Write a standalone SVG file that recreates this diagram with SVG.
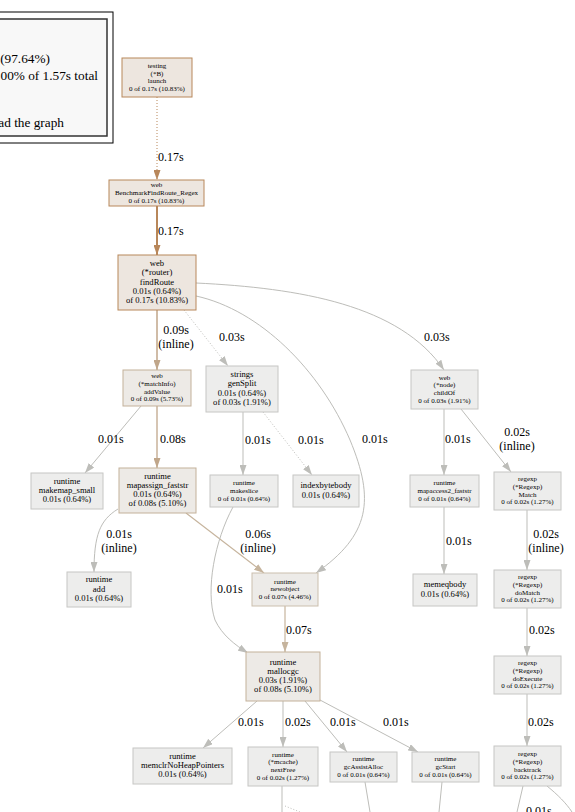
<svg xmlns="http://www.w3.org/2000/svg" width="575" height="812" viewBox="0 0 575 812">
<style>
text{font-family:"Liberation Serif","Times New Roman",serif;fill:#000}
.s{font-size:7px;text-anchor:middle}
.b{font-size:8.6px;text-anchor:middle}
.l{font-size:12px}
.lm{font-size:12px;text-anchor:middle}
.g{font-size:13.3px;text-anchor:end}
.hot rect{fill:#ede6df;stroke:#b8875a;stroke-width:1}
.warm rect{fill:#edeae6;stroke:#c3b19a;stroke-width:1}
.wl rect{fill:#edebe8;stroke:#cbbfae;stroke-width:1}
.cool rect{fill:#ededec;stroke:#c6c6c4;stroke-width:1}
.e{fill:none;stroke:#bdbdb9;stroke-width:1}
.eb{fill:none;stroke:#b8875a;stroke-width:2}
.et{fill:none;stroke:#c0a68a;stroke-width:1.5}
.el{fill:none;stroke:#c6b49d;stroke-width:1.2}
.dot{stroke-dasharray:1,2}
</style>
<defs>
<marker id="ag" viewBox="0 0 10 7" refX="10" refY="3.5" markerWidth="10" markerHeight="7" markerUnits="userSpaceOnUse" orient="auto"><path d="M0,0L10,3.5L0,7z" fill="#bdbdb9"/></marker>
<marker id="ab" viewBox="0 0 10 7" refX="10" refY="3.5" markerWidth="10" markerHeight="7" markerUnits="userSpaceOnUse" orient="auto"><path d="M0,0L10,3.5L0,7z" fill="#b8875a"/></marker>
<marker id="at" viewBox="0 0 10 7" refX="10" refY="3.5" markerWidth="10" markerHeight="7" markerUnits="userSpaceOnUse" orient="auto"><path d="M0,0L10,3.5L0,7z" fill="#c0a68a"/></marker>
<marker id="al" viewBox="0 0 10 7" refX="10" refY="3.5" markerWidth="10" markerHeight="7" markerUnits="userSpaceOnUse" orient="auto"><path d="M0,0L10,3.5L0,7z" fill="#c6b49d"/></marker>
</defs>
<rect width="575" height="812" fill="#fff"/>
<g id="legend">
<rect x="-10" y="12" width="123" height="131" fill="#fff" stroke="#000" stroke-width="1"/>
<rect x="-10" y="19" width="117" height="117" fill="#f8f8f8" stroke="#333" stroke-width="1.5"/>
<text class="g" x="50" y="63">(97.64%)</text>
<text class="g" x="98" y="80">00% of 1.57s total</text>
<text class="g" x="64" y="127">ad the graph</text>
</g>
<g id="edges">
<g><path class="eb dot" style="stroke-width:1" d="M157,97L157,180" marker-end="url(#ab)"/><text class="l" x="158" y="161">0.17s</text></g>
<g><path class="eb" d="M157,206L157,255" marker-end="url(#ab)"/><text class="l" x="158" y="235">0.17s</text></g>
<g><path class="et" d="M157,310L157,370" marker-end="url(#at)"/><text class="lm" x="176" y="334">0.09s</text><text class="lm" x="176" y="348">(inline)</text></g>
<g><path class="e dot" d="M184,310L228,366" marker-end="url(#ag)"/><text class="l" x="219" y="341">0.03s</text></g>
<g><path class="e" d="M196,296C260,310 320,370 350,440C375,500 370,535 316,573" marker-end="url(#ag)"/><text class="l" x="362" y="443">0.01s</text></g>
<g><path class="e" d="M196,283C300,288 400,305 444,370" marker-end="url(#ag)"/><text class="l" x="424" y="341">0.03s</text></g>
<g><path class="e" d="M141,406L85,473" marker-end="url(#ag)"/><text class="l" x="98" y="443">0.01s</text></g>
<g><path class="et" style="stroke-width:1.3" d="M157,406L157,468" marker-end="url(#at)"/><text class="l" x="160" y="443">0.08s</text></g>
<g><path class="e" d="M243,412L243,475" marker-end="url(#ag)"/><text class="l" x="245" y="444">0.01s</text></g>
<g><path class="e dot" d="M263,412L312,475" marker-end="url(#ag)"/><text class="l" x="298" y="444">0.01s</text></g>
<g><path class="e" d="M444,409L444,475" marker-end="url(#ag)"/><text class="l" x="445" y="443">0.01s</text></g>
<g><path class="e" d="M461,409L511,472" marker-end="url(#ag)"/><text class="lm" x="517" y="436">0.02s</text><text class="lm" x="517" y="450">(inline)</text></g>
<g><path class="e" d="M118,509C100,520 94,535 94,572" marker-end="url(#ag)"/><text class="lm" x="119" y="538">0.01s</text><text class="lm" x="119" y="552">(inline)</text></g>
<g><path class="el" d="M186,513L264,573" marker-end="url(#al)"/><text class="lm" x="258" y="538">0.06s</text><text class="lm" x="258" y="552">(inline)</text></g>
<g><path class="e" d="M233,507C215,540 205,590 215,620C222,635 235,645 248,653" marker-end="url(#ag)"/><text class="l" x="217" y="593">0.01s</text></g>
<g><path class="e" d="M444,507L444,574" marker-end="url(#ag)"/><text class="l" x="446" y="545">0.01s</text></g>
<g><path class="e" d="M527,510L527,570" marker-end="url(#ag)"/><text class="lm" x="546" y="537.5">0.02s</text><text class="lm" x="546" y="551.5">(inline)</text></g>
<g><path class="e" d="M527,608L527,656" marker-end="url(#ag)"/><text class="l" x="529" y="634">0.02s</text></g>
<g><path class="e" d="M527,694L527,746" marker-end="url(#ag)"/><text class="l" x="528" y="726">0.02s</text></g>
<g><path class="el" d="M285,606L285,652" marker-end="url(#al)"/><text class="l" x="286" y="634">0.07s</text></g>
<g><path class="e" d="M257,701L203,748" marker-end="url(#ag)"/><text class="l" x="238" y="726">0.01s</text></g>
<g><path class="e" d="M283,701L283,747" marker-end="url(#ag)"/><text class="l" x="285" y="726">0.02s</text></g>
<g><path class="e" d="M305,701L347,752" marker-end="url(#ag)"/><text class="l" x="330" y="726">0.01s</text></g>
<g><path class="e" d="M320,700L418,752" marker-end="url(#ag)"/><text class="l" x="383" y="726">0.01s</text></g>
<g><path class="e" d="M282,786L282,812"/><path class="e dot" d="M285,806L305,814"/></g>
<g><path class="e" d="M365,782L370,812"/></g>
<g><path class="e" d="M442,782L439,812"/></g>
<g><path class="e" d="M523,786L517,812"/><path class="e" d="M547,786C558,795 566,803 572,812"/><text class="l" x="526" y="815">0.01s</text></g>
</g>
<g id="n-launch" class="hot"><rect x="122" y="58" width="70" height="39"/><text class="s" x="157" y="67.8">testing</text><text class="s" x="157" y="75.5">(*B)</text><text class="s" x="157" y="83.2">launch</text><text class="s" x="157" y="90.9">0 of 0.17s (10.83%)</text></g>
<g id="n-bench" class="hot"><rect x="109" y="180" width="95" height="26"/><text class="s" x="156.5" y="187.1">web</text><text class="s" x="156.5" y="194.8">BenchmarkFindRoute_Regex</text><text class="s" x="156.5" y="202.5">0 of 0.17s (10.83%)</text></g>
<g id="n-findRoute" class="hot"><rect x="118" y="255" width="78" height="55"/><text class="b" x="157" y="265.9">web</text><text class="b" x="157" y="275.2">(*router)</text><text class="b" x="157" y="284.5">findRoute</text><text class="b" x="157" y="293.8">0.01s (0.64%)</text><text class="b" x="157" y="303.1">of 0.17s (10.83%)</text></g>
<g id="n-addValue" class="warm"><rect x="123" y="370" width="68" height="36"/><text class="s" x="157" y="378.2">web</text><text class="s" x="157" y="385.9">(*matchInfo)</text><text class="s" x="157" y="393.6">addValue</text><text class="s" x="157" y="401.3">0 of 0.09s (5.73%)</text></g>
<g id="n-genSplit" class="cool"><rect x="206" y="366" width="72" height="46"/><text class="b" x="242" y="377">strings</text><text class="b" x="242" y="386.3">genSplit</text><text class="b" x="242" y="395.6">0.01s (0.64%)</text><text class="b" x="242" y="404.9">of 0.03s (1.91%)</text></g>
<g id="n-childOf" class="cool"><rect x="411" y="370" width="67" height="39"/><text class="s" x="444.5" y="379.7">web</text><text class="s" x="444.5" y="387.4">(*node)</text><text class="s" x="444.5" y="395.1">childOf</text><text class="s" x="444.5" y="402.8">0 of 0.03s (1.91%)</text></g>
<g id="n-makemap" class="cool"><rect x="31" y="473" width="72" height="36"/><text class="b" x="67" y="483.7">runtime</text><text class="b" x="67" y="493">makemap_small</text><text class="b" x="67" y="502.3">0.01s (0.64%)</text></g>
<g id="n-mapassign" class="warm"><rect x="119" y="468" width="77" height="45"/><text class="b" x="157.5" y="478.5">runtime</text><text class="b" x="157.5" y="487.8">mapassign_faststr</text><text class="b" x="157.5" y="497.1">0.01s (0.64%)</text><text class="b" x="157.5" y="506.4">of 0.08s (5.10%)</text></g>
<g id="n-makeslice" class="cool"><rect x="210" y="475" width="68" height="32"/><text class="s" x="244" y="485.1">runtime</text><text class="s" x="244" y="492.8">makeslice</text><text class="s" x="244" y="500.5">0 of 0.01s (0.64%)</text></g>
<g id="n-indexbytebody" class="cool"><rect x="293" y="475" width="66" height="32"/><text class="b" x="326" y="488.3">indexbytebody</text><text class="b" x="326" y="497.6">0.01s (0.64%)</text></g>
<g id="n-mapaccess2" class="cool"><rect x="410" y="475" width="69" height="32"/><text class="s" x="444.5" y="485.1">runtime</text><text class="s" x="444.5" y="492.8">mapaccess2_faststr</text><text class="s" x="444.5" y="500.5">0 of 0.01s (0.64%)</text></g>
<g id="n-Match" class="cool"><rect x="494" y="472" width="67" height="38"/><text class="s" x="527.5" y="481.2">regexp</text><text class="s" x="527.5" y="488.9">(*Regexp)</text><text class="s" x="527.5" y="496.6">Match</text><text class="s" x="527.5" y="504.3">0 of 0.02s (1.27%)</text></g>
<g id="n-add" class="cool"><rect x="67" y="572" width="64" height="35"/><text class="b" x="99" y="582.2">runtime</text><text class="b" x="99" y="591.5">add</text><text class="b" x="99" y="600.8">0.01s (0.64%)</text></g>
<g id="n-newobject" class="wl"><rect x="252" y="573" width="66" height="33"/><text class="s" x="285" y="583.6">runtime</text><text class="s" x="285" y="591.3">newobject</text><text class="s" x="285" y="599">0 of 0.07s (4.46%)</text></g>
<g id="n-memeqbody" class="cool"><rect x="413" y="574" width="64" height="32"/><text class="b" x="445" y="587.3">memeqbody</text><text class="b" x="445" y="596.6">0.01s (0.64%)</text></g>
<g id="n-doMatch" class="cool"><rect x="494" y="570" width="67" height="38"/><text class="s" x="527.5" y="579.2">regexp</text><text class="s" x="527.5" y="586.9">(*Regexp)</text><text class="s" x="527.5" y="594.6">doMatch</text><text class="s" x="527.5" y="602.3">0 of 0.02s (1.27%)</text></g>
<g id="n-doExecute" class="cool"><rect x="494" y="656" width="67" height="38"/><text class="s" x="527.5" y="665.2">regexp</text><text class="s" x="527.5" y="672.9">(*Regexp)</text><text class="s" x="527.5" y="680.6">doExecute</text><text class="s" x="527.5" y="688.3">0 of 0.02s (1.27%)</text></g>
<g id="n-mallocgc" class="warm"><rect x="246" y="652" width="74" height="49"/><text class="b" x="283" y="664.5">runtime</text><text class="b" x="283" y="673.8">mallocgc</text><text class="b" x="283" y="683.1">0.03s (1.91%)</text><text class="b" x="283" y="692.4">of 0.08s (5.10%)</text></g>
<g id="n-memclr" class="cool"><rect x="133" y="748" width="99" height="36"/><text class="b" x="182.5" y="758.7">runtime</text><text class="b" x="182.5" y="768">memclrNoHeapPointers</text><text class="b" x="182.5" y="777.3">0.01s (0.64%)</text></g>
<g id="n-nextFree" class="cool"><rect x="248" y="747" width="70" height="39"/><text class="s" x="283" y="756.7">runtime</text><text class="s" x="283" y="764.4">(*mcache)</text><text class="s" x="283" y="772.1">nextFree</text><text class="s" x="283" y="779.8">0 of 0.02s (1.27%)</text></g>
<g id="n-gcAssistAlloc" class="cool"><rect x="330" y="752" width="67" height="30"/><text class="s" x="363.5" y="761.1">runtime</text><text class="s" x="363.5" y="768.8">gcAssistAlloc</text><text class="s" x="363.5" y="776.5">0 of 0.01s (0.64%)</text></g>
<g id="n-gcStart" class="cool"><rect x="412" y="752" width="67" height="30"/><text class="s" x="445.5" y="761.1">runtime</text><text class="s" x="445.5" y="768.8">gcStart</text><text class="s" x="445.5" y="776.5">0 of 0.01s (0.64%)</text></g>
<g id="n-backtrack" class="cool"><rect x="494" y="746" width="67" height="40"/><text class="s" x="527.5" y="756.2">regexp</text><text class="s" x="527.5" y="763.9">(*Regexp)</text><text class="s" x="527.5" y="771.6">backtrack</text><text class="s" x="527.5" y="779.3">0 of 0.02s (1.27%)</text></g>
</svg>
